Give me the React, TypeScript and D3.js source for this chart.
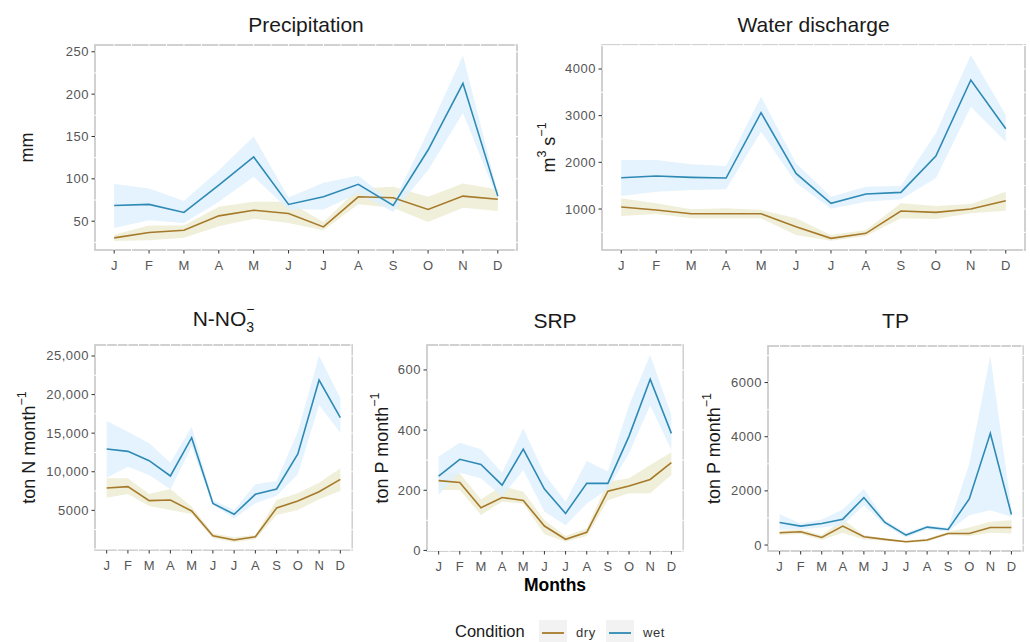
import React, { useEffect, useRef } from "react";
import * as d3 from "d3";

// months and readings (estimated from the figure)
const months = ["J", "F", "M", "A", "M", "J", "J", "A", "S", "O", "N", "D"];

const precipWet = [68.6, 69.8, 60.3, 92.7, 125.8, 69.8, 78.8, 93.5, 68.6, 134, 212.7, 79.6];
const precipWetHi = [93.8, 88.7, 73.7, 110, 150, 78, 95.4, 103.7, 71.7, 155.9, 245.5, 83.6];
const precipWetLo = [42, 51, 48, 73, 102.5, 63.8, 63.8, 82.8, 61, 110, 177.6, 75.7];
const precipDry = [30.3, 36.6, 39.3, 56.3, 63, 59, 43.3, 78.8, 77.6, 63.8, 79.6, 76];
const precipDryHi = [34, 45, 45, 67, 73, 73, 49, 88.7, 90.7, 78.8, 94.6, 87.5];
const precipDryLo = [26.7, 27.5, 30.6, 44, 53, 48, 39.3, 70, 66, 49, 66, 62];

const dischWet = [1671, 1707, 1678, 1664, 3064, 1764, 1121, 1321, 1357, 2135, 3764, 2721];
const dischWetHi = [2050, 2050, 1957, 1921, 3407, 1978, 1264, 1478, 1493, 2621, 4300, 3014];
const dischWetLo = [1279, 1371, 1407, 1421, 2657, 1564, 1007, 1157, 1207, 1657, 3193, 2443];
const dischDry = [1043, 979, 900, 900, 900, 621, 371, 479, 957, 929, 1000, 1179];
const dischDryHi = [1229, 1121, 993, 1014, 979, 800, 443, 550, 1121, 1064, 1107, 1371];
const dischDryLo = [850, 893, 800, 800, 800, 443, 321, 421, 800, 786, 907, 964];

const no3Wet = [12950, 12646, 11437, 9450, 14418, 5907, 4482, 7074, 7765, 12300, 21890, 17010];
const no3WetHi = [16578, 15195, 13683, 11178, 15843, 6339, 5043, 8370, 8802, 15195, 25045, 19515];
const no3WetLo = [9234, 10659, 9579, 7722, 13251, 5691, 3963, 5907, 6900, 9666, 18651, 15066];
const no3Dry = [7894, 8067, 6253, 6339, 4914, 1717, 1155, 1587, 5302, 6210, 7419, 9018];
const no3DryHi = [9147, 9147, 7117, 7765, 5475, 2019, 1500, 1803, 6339, 7203, 8586, 10443];
const no3DryLo = [6642, 7117, 5562, 5043, 4525, 1371, 853, 1241, 4395, 5043, 6426, 7506];

const srpWet = [247, 303, 286, 217, 337, 204, 123, 223, 223, 380, 569, 389];
const srpWetHi = [312, 358, 336, 258, 406, 254, 162, 297, 262, 483, 650, 450];
const srpWetLo = [184, 258, 240, 179, 267, 129, 84, 156, 204, 323, 483, 334];
const srpDry = [232, 226, 142, 176, 166, 81, 37, 60, 197, 214, 236, 292];
const srpDryHi = [258, 256, 170, 214, 195, 101, 48, 73, 228, 240, 284, 326];
const srpDryLo = [201, 201, 118, 162, 156, 54, 29, 48, 167, 190, 190, 251];

const tpWet = [833, 698, 796, 955, 1752, 833, 368, 662, 576, 1703, 4128, 1127];
const tpWetHi = [1139, 796, 943, 1311, 2083, 919, 453, 735, 649, 3001, 6983, 1348];
const tpWetLo = [576, 576, 649, 735, 1470, 735, 282, 576, 502, 1103, 1286, 1041];
const tpDry = [453, 490, 282, 698, 306, 208, 122, 184, 429, 429, 649, 649];
const tpDryHi = [527, 576, 368, 943, 368, 245, 159, 245, 490, 649, 858, 919];
const tpDryLo = [368, 404, 184, 453, 208, 159, 86, 122, 368, 331, 453, 429];

const precipTicks = [50, 100, 150, 200, 250];
const dischTicks = [1000, 2000, 3000, 4000];
const no3Ticks = [5000, 10000, 15000, 20000, 25000];
const srpTicks = [0, 200, 400, 600];
const tpTicks = [0, 2000, 4000, 6000];

const WET = "#2e8ab5";
const DRY = "#a67a2a";
const WET_FILL = "#dff1fd";
const DRY_FILL = "#eeedd6";

const fmtNo3 = (d: number) => (d >= 10000 ? d3.format(",")(d) : String(d));

const panels = [
  {
    key: "precip", title: "Precipitation", ylab: "mm", titleY: 32,
    box: [95, 517, 45, 250], ydom: [16, 258], ticks: precipTicks, ylabX: 27, fmt: String,
    wet: [precipWet, precipWetLo, precipWetHi], dry: [precipDry, precipDryLo, precipDryHi],
  },
  {
    key: "disch", title: "Water discharge", ylab: "m3s", titleY: 32,
    box: [602, 1025, 45, 250], ydom: [122, 4514], ticks: dischTicks, ylabX: 549, fmt: String,
    wet: [dischWet, dischWetLo, dischWetHi], dry: [dischDry, dischDryLo, dischDryHi],
  },
  {
    key: "no3", title: "no3", ylab: "ton N", titleY: 326,
    box: [95, 352, 345, 550], ydom: [-140, 26425], ticks: no3Ticks, ylabX: 29, fmt: fmtNo3,
    wet: [no3Wet, no3WetLo, no3WetHi], dry: [no3Dry, no3DryLo, no3DryHi],
  },
  {
    key: "srp", title: "SRP", ylab: "ton P", titleY: 328,
    box: [427, 683, 345, 551], ydom: [-2, 683], ticks: srpTicks, ylabX: 382, fmt: String,
    wet: [srpWet, srpWetLo, srpWetHi], dry: [srpDry, srpDryLo, srpDryHi],
  },
  {
    key: "tp", title: "TP", ylab: "ton P", titleY: 328,
    box: [768, 1023, 346, 551], ydom: [-220, 7350], ticks: tpTicks, ylabX: 714, fmt: String,
    wet: [tpWet, tpWetLo, tpWetHi], dry: [tpDry, tpDryLo, tpDryHi],
  },
];

const App = () => {
  const ref = useRef<SVGSVGElement>(null);

  useEffect(() => {
    const svg = d3.select(ref.current);
    svg.selectAll("*").remove();
    const font = "Liberation Sans, Arial, sans-serif";

    panels.forEach((p) => {
      const [l, r, t, b] = p.box;
      const x = d3.scaleLinear().domain([0.45, 12.55]).range([l, r]);
      const y = d3.scaleLinear().domain(p.ydom).range([b, t]);
      const g = svg.append("g");
      const idx = d3.range(12);

      // panel border
      g.append("rect").attr("x", l).attr("y", t).attr("width", r - l).attr("height", b - t)
        .attr("fill", "white").attr("stroke", "#c6c6c6").attr("stroke-width", 1.6);

      // white grid (major + minor) cuts the border
      const xg = d3.range(1, 13, 0.5);
      g.selectAll(".xg").data(xg).join("line")
        .attr("x1", (d) => x(d)).attr("x2", (d) => x(d))
        .attr("y1", t - 1).attr("y2", b + 1)
        .attr("stroke", "white").attr("stroke-width", 1);
      const step = p.ticks[1] - p.ticks[0];
      const yg = d3.range(p.ticks[0] - step, p.ticks[p.ticks.length - 1] + step * 1.01, step / 2)
        .filter((d) => y(d) > t && y(d) < b);
      g.selectAll(".yg").data(yg).join("line")
        .attr("x1", l - 1).attr("x2", r + 1)
        .attr("y1", (d) => y(d)).attr("y2", (d) => y(d))
        .attr("stroke", "white").attr("stroke-width", 1);

      const area = (lo: number[], hi: number[]) =>
        d3.area<number>().x((i) => x(i + 1)).y0((i) => y(lo[i])).y1((i) => y(hi[i]))(idx);
      const line = (v: number[]) => d3.line<number>().x((i) => x(i + 1)).y((i) => y(v[i]))(idx);

      g.append("path").attr("d", area(p.dry[1], p.dry[2])).attr("fill", DRY_FILL).attr("opacity", 0.9);
      g.append("path").attr("d", area(p.wet[1], p.wet[2])).attr("fill", WET_FILL).attr("opacity", 0.85);
      g.append("path").attr("d", line(p.dry[0])).attr("fill", "none").attr("stroke", DRY).attr("stroke-width", 1.6);
      g.append("path").attr("d", line(p.wet[0])).attr("fill", "none").attr("stroke", WET).attr("stroke-width", 1.6);

      // x axis
      g.selectAll(".xt").data(idx).join("line")
        .attr("x1", (i) => x(i + 1)).attr("x2", (i) => x(i + 1))
        .attr("y1", b).attr("y2", b + 3.5).attr("stroke", "#333").attr("stroke-width", 1);
      g.selectAll(".xl").data(idx).join("text")
        .attr("x", (i) => x(i + 1)).attr("y", b + 20)
        .attr("text-anchor", "middle").attr("font-family", font).attr("font-size", 13)
        .attr("fill", "#555").text((i) => months[i]);

      // y axis
      g.selectAll(".yt").data(p.ticks).join("line")
        .attr("x1", l - 3.5).attr("x2", l)
        .attr("y1", (d) => y(d)).attr("y2", (d) => y(d)).attr("stroke", "#333").attr("stroke-width", 1);
      g.selectAll(".yl").data(p.ticks).join("text")
        .attr("x", l - 6).attr("y", (d) => y(d) + 4.5)
        .attr("text-anchor", "end").attr("font-family", font).attr("font-size", 13)
        .attr("letter-spacing", 0.5).attr("fill", "#555").text((d) => p.fmt(d));

      // title
      const tt = g.append("text").attr("x", (l + r) / 2).attr("y", p.titleY)
        .attr("text-anchor", "middle").attr("font-family", font).attr("font-size", 21).attr("fill", "#1a1a1a");
      if (p.title === "no3") {
        tt.append("tspan").text("N-NO");
        tt.append("tspan").attr("font-size", 14).attr("dy", 6).text("3");
        tt.append("tspan").attr("font-size", 14).attr("dx", -8).attr("dy", -18).text("−");
      } else {
        tt.text(p.title);
      }

      // y label
      const cy = (t + b) / 2;
      const yl = g.append("text").attr("transform", `translate(${p.ylabX + 6},${cy}) rotate(-90)`)
        .attr("text-anchor", "middle").attr("font-family", font).attr("font-size", 18).attr("fill", "#1a1a1a");
      if (p.ylab === "mm") {
        yl.text("mm");
      } else if (p.ylab === "m3s") {
        yl.append("tspan").text("m");
        yl.append("tspan").attr("font-size", 12.5).attr("dy", -9).text("3");
        yl.append("tspan").attr("dy", 9).text(" s");
        yl.append("tspan").attr("font-size", 12.5).attr("dy", -9).text("−1");
      } else {
        yl.append("tspan").text(p.ylab + " month");
        yl.append("tspan").attr("font-size", 12.5).attr("dy", -9).text("−1");
      }
    });

    // shared x title
    svg.append("text").attr("x", 555).attr("y", 591).attr("text-anchor", "middle")
      .attr("font-family", font).attr("font-size", 17.5).attr("font-weight", "bold").attr("fill", "#000")
      .text("Months");

    // legend
    const lg = svg.append("g");
    lg.append("text").attr("x", 455).attr("y", 637).attr("font-family", font).attr("font-size", 16.5)
      .attr("fill", "#1a1a1a").text("Condition");
    const keys = [
      { label: "dry", color: DRY, x: 539 },
      { label: "wet", color: WET, x: 606 },
    ];
    keys.forEach((k) => {
      lg.append("rect").attr("x", k.x).attr("y", 620).attr("width", 28).attr("height", 22).attr("fill", "#f2f2f2");
      lg.append("line").attr("x1", k.x + 3).attr("x2", k.x + 25).attr("y1", 633).attr("y2", 633)
        .attr("stroke", k.color).attr("stroke-width", 1.8);
      lg.append("text").attr("x", k.x + 37).attr("y", 637).attr("font-family", font).attr("font-size", 13)
        .attr("letter-spacing", 0.6).attr("fill", "#333").text(k.label);
    });
  }, []);

  return (
    <svg ref={ref} width={1030} height={642}
      style={{ position: "absolute", left: 0, top: 0, background: "white" }} />
  );
};

export default App;
